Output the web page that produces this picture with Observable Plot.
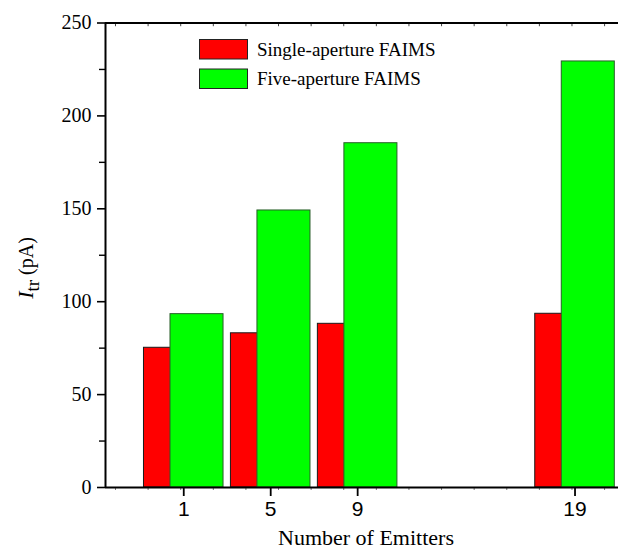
<!DOCTYPE html>
<html>
<head>
<meta charset="utf-8">
<script src="https://cdn.jsdelivr.net/npm/d3@7"></script>
<script src="https://cdn.jsdelivr.net/npm/@observablehq/plot@0.6"></script>
<style>
  html, body { margin: 0; padding: 0; background: #fff; }
  #chart { position: relative; width: 618px; height: 551px; }
</style>
</head>
<body>
<div id="chart"></div>
<script>
// ---- data ----
const categories = [1, 5, 9, 19];
const singleAperture = [75.2, 83.0, 88.1, 93.5];
const fiveAperture = [93.3, 149.1, 185.3, 229.3];
const seriesNames = ["Single-aperture FAIMS", "Five-aperture FAIMS"];
const yTicks = [0, 50, 100, 150, 200, 250];
const yMinorTicks = [25, 75, 125, 175, 225];
const xTicks = [1, 5, 9, 19];
const xMinorTicks = [-2.14, -0.64, 0.86, 2.36, 3.86, 5.36, 6.86, 8.36, 9.86, 11.36, 12.86, 14.36, 15.86, 17.36, 18.86, 20.36];
const xTitle = "Number of Emitters";

// ---- layout / style ----
const colors = ["#ff0000", "#00ff00"];
const strokes = ["#1a1a1a", "#2a5e2a"];
const barHalf = 1.22;   // half bar width in x units
const barShift = 0.61;  // overlap offset in x units
const serif = "'Liberation Serif', 'Times New Roman', serif";
const sans = "'Liberation Sans', Arial, sans-serif";

const rows = categories.map((n, i) => ({ n, single: singleAperture[i], five: fiveAperture[i] }));

const plot = Plot.plot({
  width: 618,
  height: 551,
  marginLeft: 105,
  marginRight: 0,
  marginTop: 22.5,
  marginBottom: 64,
  style: { color: "#000", background: "#fff", overflow: "visible" },
  x: { domain: [-2.6, 21] },
  y: { domain: [0, 250] },
  marks: [
    Plot.rect(rows, {
      x1: d => d.n - barShift - barHalf, x2: d => d.n - barShift + barHalf,
      y1: 0, y2: "single", fill: colors[0], stroke: strokes[0], strokeWidth: 1
    }),
    Plot.rect(rows, {
      x1: d => d.n + barShift - barHalf, x2: d => d.n + barShift + barHalf,
      y1: 0, y2: "five", fill: colors[1], stroke: strokes[1], strokeWidth: 1
    }),
    Plot.axisY(yTicks, { tickSize: 8, tickPadding: 6, fontSize: 20, fontFamily: serif, strokeWidth: 1.6, label: null }),
    Plot.axisY(yMinorTicks, { tickSize: 6, text: null, strokeWidth: 1.4, label: null }),
    Plot.axisX(xTicks, { tickSize: 9, tickPadding: 5, fontSize: 21, fontFamily: sans, strokeWidth: 1.8, label: null }),
    Plot.axisX(xMinorTicks, { tickSize: 3, text: null, strokeWidth: 1, stroke: "#777", label: null }),
    Plot.ruleX(xMinorTicks, { y1: 250, y2: 248, stroke: "#444", strokeWidth: 1 }),
    Plot.ruleX([-2.6], { strokeWidth: 2 }),
    Plot.ruleY([0], { strokeWidth: 2 }),
    Plot.ruleY([250], { strokeWidth: 2 })
  ]
});

document.getElementById("chart").appendChild(plot);

const svg = d3.select(plot);

// x axis title
svg.append("text")
  .attr("x", 366).attr("y", 545)
  .attr("text-anchor", "middle")
  .attr("font-family", serif).attr("font-size", 22)
  .attr("fill", "#000")
  .text(xTitle);

// y axis title: I_tr (pA)
const yt = svg.append("text")
  .attr("transform", "translate(33,268) rotate(-90)")
  .attr("text-anchor", "middle")
  .attr("font-family", serif).attr("font-size", 20)
  .attr("fill", "#000");
yt.append("tspan").attr("font-style", "italic").attr("font-size", 22).text("I");
yt.append("tspan").attr("font-size", 19).attr("dy", 6).text("tr");
yt.append("tspan").attr("dy", -6).text(" (pA)");

// legend
const lg = svg.append("g").attr("text-anchor", "start");
seriesNames.forEach((name, i) => {
  const top = 39.5 + i * 29.5;
  lg.append("rect")
    .attr("x", 199.5).attr("y", top).attr("width", 48).attr("height", 19.5)
    .attr("fill", colors[i]).attr("stroke", "#222").attr("stroke-width", 1);
  lg.append("text")
    .attr("x", 257).attr("y", top + 16)
    .attr("text-anchor", "start")
    .attr("font-family", serif).attr("font-size", 19)
    .attr("fill", "#000")
    .text(name);
});
</script>
</body>
</html>
